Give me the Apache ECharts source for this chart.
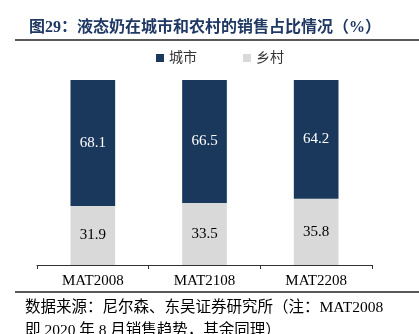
<!DOCTYPE html>
<html><head><meta charset="utf-8">
<script src="https://cdn.jsdelivr.net/npm/echarts@6/dist/echarts.min.js"></script>
<style>html,body{margin:0;padding:0;background:#fff}#c{width:419px;height:334px}</style>
</head><body><div id="c"></div>
<script>
const categories = ['MAT2008', 'MAT2108', 'MAT2208'];
const rural = [31.9, 33.5, 35.8];
const city = [68.1, 66.5, 64.2];
const titleText = '图29：液态奶在城市和农村的销售占比情况（%）';
const sourceLine1 = '数据来源：尼尔森、东吴证券研究所（注：MAT2008';
const sourceLine2 = '即 2020 年 8 月销售趋势，其余同理）';

const chart = echarts.init(document.getElementById('c'));
const cjk = '"Liberation Serif", "Noto Sans CJK SC", serif';
const serif = '"Liberation Serif", serif';
chart.setOption({
  animation: false,
  title: {
    text: titleText, left: 24, top: 15,
    textStyle: { fontSize: 16, fontWeight: 'bold', color: '#1f3864', fontFamily: cjk }
  },
  legend: {
    data: ['城市', '乡村'], left: 151, top: 46, itemWidth: 8, itemHeight: 8, itemGap: 46,
    icon: 'rect',
    textStyle: { fontSize: 14, color: '#333', fontFamily: cjk }
  },
  grid: { left: 37, right: 47, top: 80, bottom: 69 },
  xAxis: {
    type: 'category', data: categories,
    axisLine: { lineStyle: { color: '#333', width: 1 } },
    axisTick: { show: true, length: 4, lineStyle: { color: '#333' } },
    axisLabel: { fontSize: 15, color: '#000', fontFamily: serif, margin: 9 }
  },
  yAxis: { type: 'value', min: 0, max: 100, show: false, splitLine: { show: false } },
  series: [
    { name: '乡村', type: 'bar', stack: 'a', data: rural, barWidth: '40%',
      itemStyle: { color: '#d9d9d9' },
      label: { show: true, position: 'inside', color: '#000', fontSize: 15, fontFamily: serif } },
    { name: '城市', type: 'bar', stack: 'a', data: city, barWidth: '40%',
      itemStyle: { color: '#1a375c' },
      label: { show: true, position: 'inside', color: '#fff', fontSize: 15, fontFamily: serif } }
  ],
  graphic: [
    { type: 'line', shape: { x1: 15, y1: 40, x2: 419, y2: 40 }, style: { stroke: '#222', lineWidth: 1.5 } },
    { type: 'line', shape: { x1: 15, y1: 292, x2: 419, y2: 292 }, style: { stroke: '#222', lineWidth: 1.5 } },
    { type: 'text', left: 25, top: 300, style: { text: sourceLine1, font: '15.5px ' + cjk, fill: '#000' } },
    { type: 'text', left: 25, top: 323, style: { text: sourceLine2, font: '15.5px ' + cjk, fill: '#000' } }
  ]
});
</script></body></html>
